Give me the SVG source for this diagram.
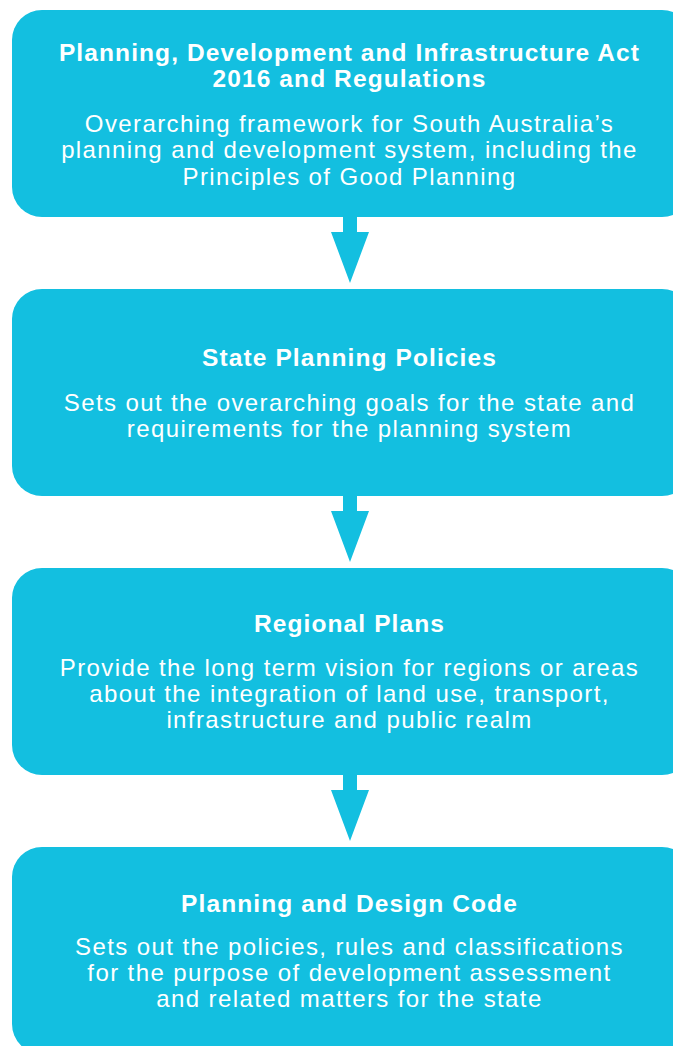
<svg xmlns="http://www.w3.org/2000/svg" width="673" height="1046" viewBox="0 0 673 1046">
<style>
.box{fill:#13BFE0}
.arr{fill:#13BFE0}
text{font-family:"Liberation Sans",Arial,Helvetica,sans-serif;fill:#FFFFFF;text-anchor:middle;font-size:24px;letter-spacing:1.4px}
.t{font-weight:bold;font-size:24.5px;letter-spacing:1.1px}
</style>
<rect width="673" height="1046" fill="#FFFFFF"/>
<g id="connectors">
<path class="arr" d="M343,216 H357 V232 H369 L350,283 L331,232 H343 Z"/>
<path class="arr" d="M343,495 H357 V511 H369 L350,562 L331,511 H343 Z"/>
<path class="arr" d="M343,774 H357 V790 H369 L350,841 L331,790 H343 Z"/>
</g>
<g id="node1">
<rect class="box" x="12" y="10" width="680" height="207" rx="30" ry="30"/>
<text class="t" x="349.5" y="61">Planning, Development and Infrastructure Act</text>
<text class="t" x="349.5" y="87">2016 and Regulations</text>
<text x="349.5" y="132">Overarching framework for South Australia’s</text>
<text x="349.5" y="158">planning and development system, including the</text>
<text x="349.5" y="185">Principles of Good Planning</text>
</g>
<g id="node2">
<rect class="box" x="12" y="289" width="680" height="207" rx="30" ry="30"/>
<text class="t" x="349.5" y="366">State Planning Policies</text>
<text x="349.5" y="411">Sets out the overarching goals for the state and</text>
<text x="349.5" y="437">requirements for the planning system</text>
</g>
<g id="node3">
<rect class="box" x="12" y="568" width="680" height="207" rx="30" ry="30"/>
<text class="t" x="349.5" y="632">Regional Plans</text>
<text x="349.5" y="676">Provide the long term vision for regions or areas</text>
<text x="349.5" y="702">about the integration of land use, transport,</text>
<text x="349.5" y="728">infrastructure and public realm</text>
</g>
<g id="node4">
<rect class="box" x="12" y="847" width="680" height="207" rx="30" ry="30"/>
<text class="t" x="349.5" y="912">Planning and Design Code</text>
<text x="349.5" y="955">Sets out the policies, rules and classifications</text>
<text x="349.5" y="981">for the purpose of development assessment</text>
<text x="349.5" y="1007">and related matters for the state</text>
</g>
</svg>
